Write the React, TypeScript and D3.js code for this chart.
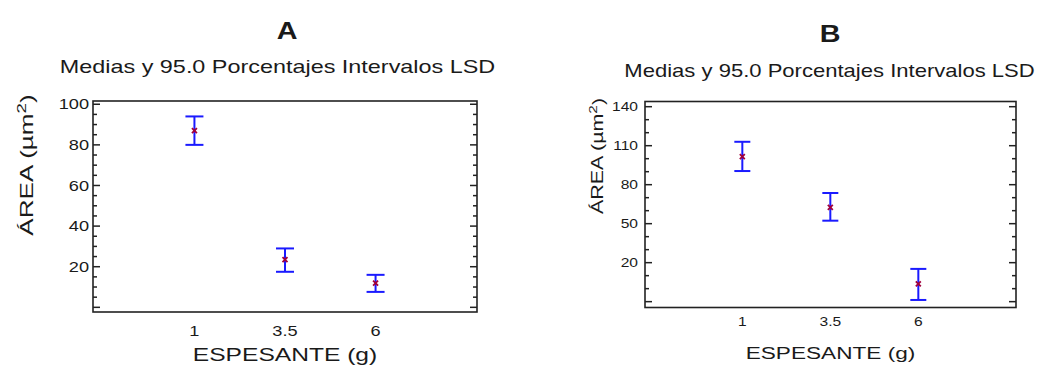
import React from "react";
import * as d3 from "d3";

// ---------- DATA ----------
const categories = ["1", "3.5", "6"];

const meansA = [87, 23.5, 11.9];
const lowerA = [80, 17.5, 7.6];
const upperA = [94, 29, 16];
const yLabelsA = [20, 40, 60, 80, 100];

const meansB = [101.5, 62.6, 3.6];
const lowerB = [90.5, 52.3, -8.7];
const upperB = [113, 73.6, 15.2];
const yLabelsB = [20, 50, 80, 110, 140];

const panelTitles = ["A", "B"];
const subtitle = "Medias y 95.0 Porcentajes Intervalos LSD";
const xTitle = "ESPESANTE (g)";

const FONT = "'Liberation Sans', Arial, sans-serif";

type TProps = {
  x: number; y: number; size: number; sx?: number; anchor?: string; weight?: string;
  rotate?: number; baseline?: string; children: React.ReactNode;
};
function T({ x, y, size, sx = 1.33, anchor = "middle", weight = "normal", rotate = 0, baseline, children }: TProps) {
  return (
    <g transform={`translate(${x},${y}) rotate(${rotate}) scale(${sx},1)`}>
      <text x={0} y={0} fontFamily={FONT} fontSize={size} fontWeight={weight} textAnchor={anchor as any}
        dominantBaseline={baseline as any} fill="#1a1a1a">{children}</text>
    </g>
  );
}

type PanelCfg = {
  title: string;
  x0: number; x1: number; y0: number; y1: number;
  yDomain: [number, number]; xDomain: [number, number];
  means: number[]; lower: number[]; upper: number[];
  yLabels: number[]; minorStep: number; majorStep: number; tickMin: number; tickMax: number;
  titleX: number; titleY: number; subX: number; subY: number; subSize: number; subSx: number;
  yTitleX: number; yTitleY: number; yTitleSize: number; yTitleSx: number;
  tickSize: number; yTickRight: number; xTickY: number;
  xTitleX: number; xTitleY: number; xTitleSize: number;
  capHalf: number;
};

function Panel({ c }: { c: PanelCfg }) {
  const y = d3.scaleLinear().domain(c.yDomain).range([c.y1, c.y0]);
  const x = d3.scaleLinear().domain(c.xDomain).range([c.x0, c.x1]);
  const minor = d3.range(c.tickMin, c.tickMax + 0.001, c.minorStep);
  const isMajor = (v: number) => Math.abs(((v - c.yLabels[0]) % c.majorStep + c.majorStep) % c.majorStep) < 1e-6;
  const tickColor = "#222";
  return (
    <g>
      <T x={c.titleX} y={c.titleY} size={23} weight="bold" sx={1.25}>{c.title}</T>
      <T x={c.subX} y={c.subY} size={c.subSize} sx={c.subSx}>{subtitle}</T>
      {/* frame */}
      <rect x={c.x0} y={c.y0} width={c.x1 - c.x0} height={c.y1 - c.y0} fill="none" stroke={tickColor} strokeWidth={1.6} />
      {minor.map((v, i) => {
        const len = isMajor(v) ? 7 : 4;
        return (
          <g key={i}>
            <line x1={c.x0} x2={c.x0 + len} y1={y(v)} y2={y(v)} stroke={tickColor} strokeWidth={1.5} />
            <line x1={c.x1} x2={c.x1 - len} y1={y(v)} y2={y(v)} stroke={tickColor} strokeWidth={1.5} />
          </g>
        );
      })}
      {c.yLabels.map((v) => (
        <T key={v} x={c.yTickRight} y={y(v)} size={c.tickSize} anchor="end" baseline="central" sx={1.3}>{v}</T>
      ))}
      {categories.map((cat, i) => (
        <T key={cat} x={x(i)} y={c.xTickY} size={c.tickSize} sx={1.3}>{cat}</T>
      ))}
      <T x={c.yTitleX} y={c.yTitleY} size={c.yTitleSize} sx={c.yTitleSx} rotate={-90} baseline="central">
        ÁREA (µm<tspan fontSize="0.72em" dy="-0.45em">2</tspan><tspan dy="0.32em">)</tspan>
      </T>
      <T x={c.xTitleX} y={c.xTitleY} size={c.xTitleSize}>{xTitle}</T>
      {/* error bars */}
      {c.means.map((m, i) => {
        const cx = x(i);
        const col = "#1a1aff";
        return (
          <g key={i}>
            <line x1={cx} x2={cx} y1={y(c.upper[i])} y2={y(c.lower[i])} stroke={col} strokeWidth={2} />
            <line x1={cx - c.capHalf} x2={cx + c.capHalf} y1={y(c.upper[i])} y2={y(c.upper[i])} stroke={col} strokeWidth={2} />
            <line x1={cx - c.capHalf} x2={cx + c.capHalf} y1={y(c.lower[i])} y2={y(c.lower[i])} stroke={col} strokeWidth={2} />
            <path d={`M${cx - 2.5},${y(m) - 2.5}L${cx + 2.5},${y(m) + 2.5}M${cx + 2.5},${y(m) - 2.5}L${cx - 2.5},${y(m) + 2.5}`}
              stroke="#a0003c" strokeWidth={1.8} />
          </g>
        );
      })}
    </g>
  );
}

const panelA: PanelCfg = {
  title: panelTitles[0],
  x0: 93, x1: 477, y0: 101, y1: 312,
  yDomain: [-2.3, 101.6], xDomain: [-1.12, 3.12],
  means: meansA, lower: lowerA, upper: upperA,
  yLabels: yLabelsA, minorStep: 5, majorStep: 20, tickMin: 0, tickMax: 100,
  titleX: 287, titleY: 39, subX: 277.5, subY: 73, subSize: 18, subSx: 1.3,
  yTitleX: 27, yTitleY: 165, yTitleSize: 18, yTitleSx: 1.45,
  tickSize: 14, yTickRight: 89, xTickY: 336,
  xTitleX: 285, xTitleY: 361, xTitleSize: 18.5,
  capHalf: 9,
};

const panelB: PanelCfg = {
  title: panelTitles[1],
  x0: 645, x1: 1016, y0: 101.5, y1: 307.5,
  yDomain: [-14.5, 144], xDomain: [-1.106, 3.11],
  means: meansB, lower: lowerB, upper: upperB,
  yLabels: yLabelsB, minorStep: 10, majorStep: 30, tickMin: -10, tickMax: 140,
  titleX: 830, titleY: 42, subX: 829.5, subY: 77, subSize: 17.5, subSx: 1.26,
  yTitleX: 598, yTitleY: 156, yTitleSize: 16, yTitleSx: 1.34,
  tickSize: 12, yTickRight: 638, xTickY: 326,
  xTitleX: 830.5, xTitleY: 359, xTitleSize: 17,
  capHalf: 8,
};

export default function App() {
  return (
    <svg width={1040} height={372} style={{ position: "absolute", left: 0, top: 0, background: "#fff" }}>
      <rect width={1040} height={372} fill="#fff" />
      <Panel c={panelA} />
      <Panel c={panelB} />
    </svg>
  );
}
